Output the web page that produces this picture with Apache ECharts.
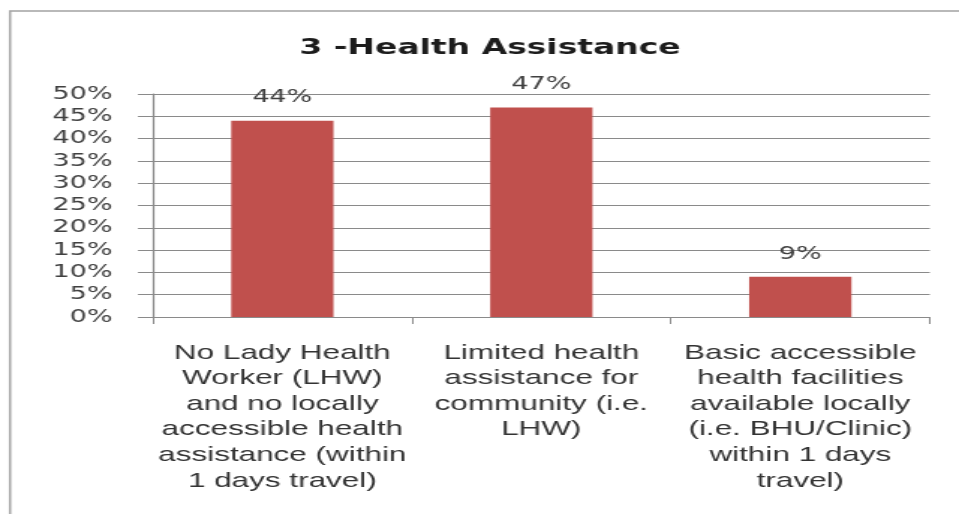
<!DOCTYPE html>
<html>
<head>
<meta charset="utf-8">
<script src="https://cdn.jsdelivr.net/npm/echarts@6/dist/echarts.min.js"></script>
<style>
  html, body { margin: 0; padding: 0; background: #ffffff; overflow: hidden; }
  #wrap { width: 959px; height: 514px; overflow: hidden; position: relative; }
  /* the chart is laid out in a narrower box and widened to the page width */
  #chart { width: 640px; height: 514px; transform: scaleX(1.4984375); transform-origin: 0 0; }
</style>
</head>
<body>
<div id="wrap"><div id="chart"></div></div>
<script>
const chartTitle = '3 -Health Assistance';
const categories = [
  'No Lady Health\nWorker (LHW)\nand no locally\naccessible health\nassistance (within\n1 days travel)',
  'Limited health\nassistance for\ncommunity (i.e.\nLHW)',
  'Basic accessible\nhealth facilities\navailable locally\n(i.e. BHU/Clinic)\nwithin 1 days\ntravel)'
];
const shares = [44, 47, 9];           // percent of respondents
const yTicks = [0, 50, 5];            // min, max, step (percent)

const chart = echarts.init(document.getElementById('chart'), null, { renderer: 'canvas' });

const tickFont = 'DejaVu Sans, Verdana, sans-serif';
const catFont = '"Liberation Sans Narrow", "Liberation Sans", Arial, sans-serif';

chart.setOption({
  backgroundColor: '#ffffff',
  animation: false,
  title: {
    text: chartTitle,
    left: 327,
    top: 37,
    textAlign: 'center',
    padding: 0,
    textStyle: { fontFamily: tickFont, fontWeight: 'bold', fontSize: 22, color: '#1c1c1c' }
  },
  graphic: [{
    type: 'rect',
    silent: true,
    shape: { x: 6.7, y: 11, width: 700, height: 600 },
    style: { fill: 'none', stroke: '#a3a3a3', lineWidth: 1.5 }
  }],
  grid: { left: 102, right: 19.5, top: 94, bottom: 197, containLabel: false },
  xAxis: {
    type: 'category',
    data: categories,
    axisLine: { show: true, lineStyle: { color: '#8a8a8a', width: 1.2 } },
    axisTick: { show: true, length: 7, lineStyle: { color: '#8a8a8a', width: 1 } },
    axisLabel: {
      interval: 0,
      margin: 23,
      fontFamily: catFont,
      fontSize: 21,
      lineHeight: 25.6,
      color: '#333333',
      align: 'center'
    }
  },
  yAxis: {
    type: 'value',
    min: yTicks[0],
    max: yTicks[1],
    interval: yTicks[2],
    axisLine: { show: true, lineStyle: { color: '#8a8a8a', width: 1.2 } },
    axisTick: { show: true, length: 10, inside: false, lineStyle: { color: '#8a8a8a', width: 1 } },
    axisLabel: {
      margin: 27,
      fontFamily: tickFont,
      fontSize: 18,
      color: '#404040',
      formatter: v => v + '%'
    },
    splitLine: { show: true, lineStyle: { color: '#8a8a8a', width: 1.2 } }
  },
  series: [{
    type: 'bar',
    data: shares,
    barWidth: '39.5%',
    itemStyle: { color: '#c0504d' },
    label: {
      show: true,
      position: 'top',
      distance: 14,
      fontFamily: tickFont,
      fontSize: 18,
      color: '#404040',
      formatter: p => p.value + '%'
    }
  }]
});
</script>
</body>
</html>
